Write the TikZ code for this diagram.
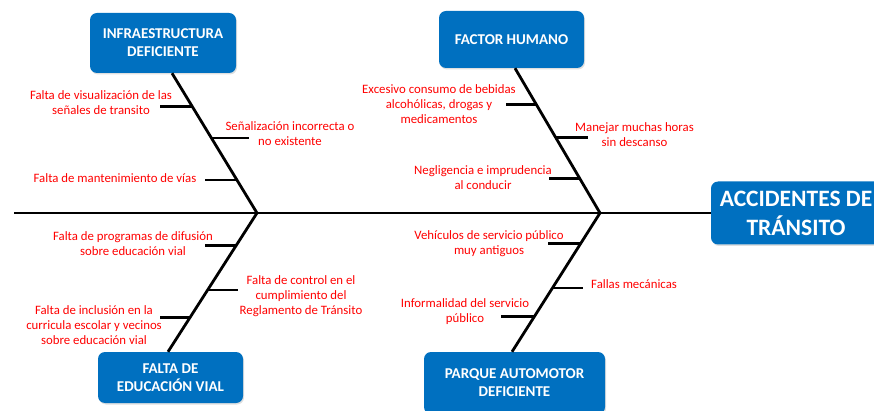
\documentclass[tikz,border=0pt]{standalone}
\usepackage{fontspec}
\setmainfont{Carlito}
\usetikzlibrary{shadows,calc}
\definecolor{boxblue}{HTML}{0070C0}
\definecolor{causered}{HTML}{FF0000}
\begin{document}
\begin{tikzpicture}[x=1pt,y=-1pt,
  catbox/.style={fill=boxblue, rounded corners=7pt, text=white, align=center,
    font=\bfseries\fontsize{15}{18}\selectfont, inner sep=0pt,
    drop shadow={opacity=0.25, shadow xshift=1pt, shadow yshift=-1.5pt}},
  bone/.style={line width=2.8pt, black},
  cause/.style={text=causered, align=center, inner sep=0pt,
    font=\fontsize{12.8}{15.2}\selectfont}]
\useasboundingbox (0,0) rectangle (874,411);
\clip (0,0) rectangle (874,411);
% category boxes
\node[catbox, minimum width=146pt, minimum height=60pt] (infra) at (163,43) {INFRAESTRUCTURA\\DEFICIENTE};
\node[catbox, minimum width=145pt, minimum height=57pt] (factor) at (511.5,39.5) {FACTOR HUMANO};
\node[catbox, minimum width=145pt, minimum height=51pt] (eduv) at (170.5,377.5) {FALTA DE\\EDUCACIÓN VIAL};
\node[catbox, minimum width=181pt, minimum height=62pt] (parque) at (514.5,383) {PARQUE AUTOMOTOR\\DEFICIENTE};
\node[catbox, minimum width=170pt, minimum height=63pt, font=\bfseries\fontsize{23.5}{29}\selectfont] (main) at (796,213) {ACCIDENTES DE\\TRÁNSITO};
% spine
\coordinate (jL) at (257,213);
\coordinate (jR) at (600,213);
\coordinate (tail) at (14,213);
\draw[bone] (tail) -- (main.west);
% bones
\coordinate (iT) at ($(infra.south)+(9,0)$);
\coordinate (eT) at ($(eduv.north)+(-2.5,0)$);
\coordinate (fT) at ($(factor.south)+(3.5,0)$);
\coordinate (pT) at ($(parque.north)+(-2.5,0)$);
\draw[bone] (iT) -- (jL) -- (eT);
\draw[bone] (fT) -- (jR) -- (pT);
% sub-causes ticks
\coordinate (a1) at ($(iT)!0.236!(jL)$);
\coordinate (a2) at ($(iT)!0.464!(jL)$);
\coordinate (a3) at ($(iT)!0.764!(jL)$);
\coordinate (b1) at ($(jL)!0.234!(eT)$);
\coordinate (b2) at ($(jL)!0.555!(eT)$);
\coordinate (b3) at ($(jL)!0.752!(eT)$);
\coordinate (c1) at ($(fT)!0.252!(jR)$);
\coordinate (c2) at ($(fT)!0.476!(jR)$);
\coordinate (c3) at ($(fT)!0.762!(jR)$);
\coordinate (d1) at ($(jR)!0.219!(pT)$);
\coordinate (d2) at ($(jR)!0.540!(pT)$);
\coordinate (d3) at ($(jR)!0.745!(pT)$);
\draw[bone] (a1) -- ++(-32,0) coordinate (a1e);
\draw[bone] (a2) -- ++(38,0) coordinate (a2e);
\draw[bone] (a3) -- ++(-32,0) coordinate (a3e);
\draw[bone] (b1) -- ++(-31,0) coordinate (b1e);
\draw[bone] (b2) -- ++(30,0) coordinate (b2e);
\draw[bone] (b3) -- ++(-30,0) coordinate (b3e);
\draw[bone] (c1) -- ++(-30,0) coordinate (c1e);
\draw[bone] (c2) -- ++(33,0) coordinate (c2e);
\draw[bone] (c3) -- ++(-31,0) coordinate (c3e);
\draw[bone] (d1) -- ++(-33,0) coordinate (d1e);
\draw[bone] (d2) -- ++(31,0) coordinate (d2e);
\draw[bone] (d3) -- ++(-33,0) coordinate (d3e);
% labels
\node[cause] (l1) at (101,102.5) {Falta de visualización de las\\señales de transito};
\node[cause] (l2) at (290,133.5) {Señalización incorrecta o\\no existente};
\node[cause] (l3) at (115,178) {Falta de mantenimiento de vías};
\node[cause] (l4) at (133,244) {Falta de programas de difusión\\sobre educación vial};
\node[cause] (l5) at (301,296) {Falta de control en el\\cumplimiento del\\Reglamento de Tránsito};
\node[cause] (l6) at (94,325) {Falta de inclusión en la\\curricula escolar y vecinos\\sobre educación vial};
\node[cause] (r1) at (439,104) {Excesivo consumo de bebidas\\alcohólicas, drogas y\\medicamentos};
\node[cause] (r2) at (634.5,135) {Manejar muchas horas\\sin descanso};
\node[cause] (r3) at (483,177.5) {Negligencia e imprudencia\\al conducir};
\node[cause] (r4) at (489,244) {Vehículos de servicio público\\muy antiguos};
\node[cause, anchor=west] (r5) at (591,284) {Fallas mecánicas};
\node[cause] (r6) at (465,311.5) {Informalidad del servicio\\público};
\end{tikzpicture}
\end{document}
